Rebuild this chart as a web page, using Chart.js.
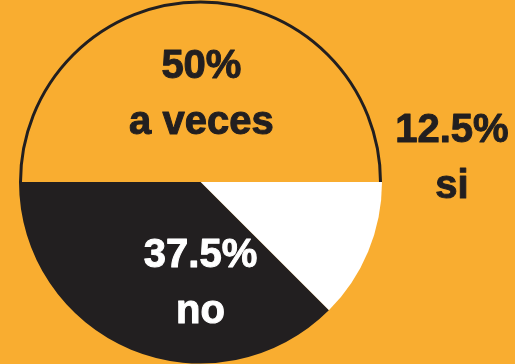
<!DOCTYPE html>
<html>
<head>
<meta charset="utf-8">
<script src="https://cdn.jsdelivr.net/npm/chart.js@4"></script>
<style>
  html, body { margin: 0; padding: 0; background: #f9ad30; }
  #wrap { width: 515px; height: 364px; }
</style>
</head>
<body>
<div id="wrap"><canvas id="pieCanvas"></canvas></div>
<script>
var labels = ["a veces", "si", "no"];
var percents = [50, 12.5, 37.5];
var sliceColors = ["#f9ad30", "#ffffff", "#221f20"];
var textColors = ["#221f20", "#221f20", "#ffffff"];

var dark = "#221f20";

// black rim only around the "a veces" half
var rimPlugin = {
  id: "rim",
  afterDatasetsDraw: function (chart) {
    var arc = chart.getDatasetMeta(0).data[0];
    var ctx = chart.ctx;
    ctx.save();
    ctx.strokeStyle = dark;
    ctx.lineWidth = 3;
    ctx.beginPath();
    ctx.arc(arc.x, arc.y, arc.outerRadius - 1.5, arc.startAngle, arc.endAngle);
    ctx.stroke();
    ctx.restore();
  },
};

// two-line labels: percent on top, answer below
var labelPlugin = {
  id: "sliceLabels",
  afterDatasetsDraw: function (chart) {
    var ctx = chart.ctx;
    var meta = chart.getDatasetMeta(0);
    // where each label block sits, in units of the radius from the centre
    var place = [
      [0.005, -0.478],
      [1.385, -0.128],
      [0, 0.562],
    ];
    ctx.save();
    ctx.font = "bold 40px 'Liberation Sans', Arial, sans-serif";
    ctx.textAlign = "center";
    ctx.textBaseline = "middle";
    ctx.lineWidth = 1;
    ctx.lineJoin = "round";
    for (var i = 0; i < meta.data.length; i++) {
      var arc = meta.data[i];
      var r = arc.outerRadius;
      var cx = arc.x + place[i][0] * r;
      var cy = arc.y + place[i][1] * r;
      ctx.fillStyle = textColors[i];
      ctx.strokeStyle = textColors[i];
      ctx.fillText(percents[i] + "%", cx, cy - 28);
      ctx.strokeText(percents[i] + "%", cx, cy - 28);
      ctx.fillText(labels[i], cx, cy + 28);
      ctx.strokeText(labels[i], cx, cy + 28);
    }
    ctx.restore();
  },
};

var ctx = document.getElementById("pieCanvas").getContext("2d");

var chart = new Chart(ctx, {
  type: "pie",
  data: {
    labels: labels,
    datasets: [
      {
        data: percents,
        backgroundColor: sliceColors,
        borderWidth: 0,
      },
    ],
  },
  options: {
    responsive: true,
    maintainAspectRatio: false,
    animation: false,
    rotation: -90, // start at 9 o'clock
    layout: {
      padding: { left: 19, right: 133, top: 0, bottom: 0 },
    },
    plugins: {
      legend: { display: false },
      tooltip: { enabled: false },
    },
  },
  plugins: [rimPlugin, labelPlugin],
});
</script>
</body>
</html>
